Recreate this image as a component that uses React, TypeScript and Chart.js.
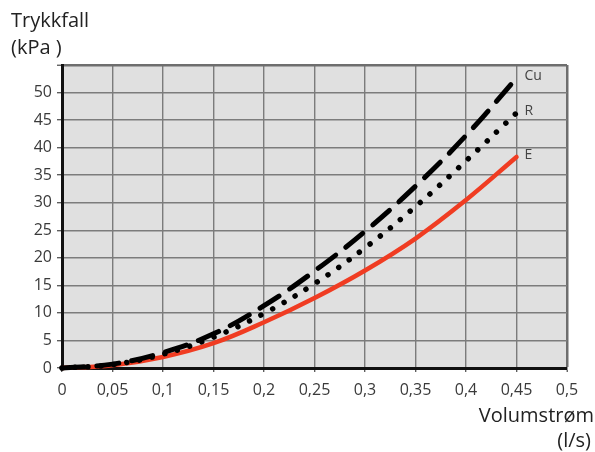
import React, { useEffect, useRef } from "react";
import { Chart, registerables } from "chart.js";

Chart.register(...registerables);

const flowValues = [0, 0.05, 0.1, 0.15, 0.2, 0.25, 0.3, 0.35, 0.4, 0.45];
const cuValues = [0, 0.7, 2.8, 6.2, 11.3, 17.6, 24.8, 33.0, 42.2, 52.6];
const rValues = [0, 0.6, 2.5, 5.6, 9.9, 15.3, 21.8, 29.3, 37.6, 46.3];
const eValues = [0, 0.5, 2.0, 4.5, 8.3, 12.7, 17.7, 23.5, 30.5, 38.3];
const seriesNames = ["Cu", "R", "E"];
const yAxisTitle = ["Trykkfall", "(kPa )"];
const xAxisTitle = ["Volumstrøm", "(l/s)"];

const FONT = "'Open Sans', 'Noto Sans', sans-serif";

const fmt = (v: number) => String(Math.round(v * 100) / 100).replace(".", ",");

export default function App() {
  const ref = useRef<HTMLCanvasElement | null>(null);
  useEffect(() => {
    if (!ref.current) return;
    const pts = (ys: number[]) => flowValues.map((x, i) => ({ x, y: ys[i] }));
    const bgPlugin = {
      id: "bg",
      beforeDraw(chart: any) {
        const { ctx, chartArea: a } = chart;
        ctx.save();
        ctx.fillStyle = "#e0e0e0";
        ctx.fillRect(a.left, a.top, a.right - a.left, a.bottom - a.top);
        ctx.restore();
      },
      afterDraw(chart: any) {
        const { ctx } = chart;
        ctx.save();
        ctx.fillStyle = "#222";
        ctx.font = `20px ${FONT}`;
        ctx.textAlign = "left";
        ctx.textBaseline = "alphabetic";
        ctx.fillText(yAxisTitle[0], 11, 27);
        ctx.fillText(yAxisTitle[1], 11, 54);
        ctx.textAlign = "right";
        ctx.fillText(xAxisTitle[0], 594, 422);
        ctx.fillText(xAxisTitle[1], 591, 447);
        ctx.fillStyle = "#444";
        ctx.font = `14px ${FONT}`;
        ctx.textAlign = "left";
        ctx.textBaseline = "middle";
        const xs = chart.scales.x;
        const ys = chart.scales.y;
        chart.data.datasets.forEach((ds: any, i: number) => {
          const last = ds.data[ds.data.length - 1];
          ctx.fillText(seriesNames[i], xs.getPixelForValue(last.x) + 8, ys.getPixelForValue(last.y) - 2);
        });
        ctx.restore();
      },
    };
    const chart = new Chart(ref.current, {
      type: "line",
      data: {
        datasets: [
          {
            label: seriesNames[0],
            data: pts(cuValues),
            borderColor: "#000",
            borderWidth: 5,
            borderDash: [22, 13],
            borderCapStyle: "round",
            pointRadius: 0,
            tension: 0.4,
            clip: false,
          },
          {
            label: seriesNames[1],
            data: pts(rValues),
            borderColor: "#000",
            borderWidth: 5.5,
            borderDash: [0.01, 13],
            borderCapStyle: "round",
            pointRadius: 0,
            tension: 0.4,
            clip: false,
          },
          {
            label: seriesNames[2],
            data: pts(eValues),
            borderColor: "#f03c22",
            borderWidth: 4.5,
            borderCapStyle: "round",
            pointRadius: 0,
            tension: 0.4,
            clip: false,
          },
        ],
      },
      options: {
        animation: false,
        responsive: false,
        devicePixelRatio: 1,
        layout: { padding: { top: 65, right: 28, left: 0, bottom: 0 } },
        plugins: { legend: { display: false }, tooltip: { enabled: false } },
        scales: {
          x: {
            type: "linear",
            min: 0,
            max: 0.5,
            afterFit: (s: any) => {
              s.height = 84;
            },
            ticks: {
              stepSize: 0.05,
              color: "#3a3a3a",
              font: { family: FONT, size: 16 },
              padding: 9,
              maxRotation: 0,
              autoSkip: false,
              callback: (v: any) => fmt(Number(v)),
            },
            grid: {
              color: (c: any) => (c.index === 10 ? "#6e6e6e" : "#7c7c7c"),
              lineWidth: (c: any) => (c.index === 10 ? 2.5 : 1.4),
              tickLength: 4,
              tickColor: "#555",
              tickWidth: 1.3,
            },
            border: { color: "#111", width: 3 },
          },
          y: {
            min: 0,
            max: 55,
            afterFit: (s: any) => {
              s.width = 62;
            },
            ticks: {
              stepSize: 5,
              color: "#3a3a3a",
              font: { family: FONT, size: 16 },
              padding: 5,
              callback: (v: any) => (Number(v) === 55 ? "" : String(v)),
            },
            grid: {
              color: (c: any) => (c.index === 11 ? "#6e6e6e" : "#7c7c7c"),
              lineWidth: (c: any) => (c.index === 11 ? 2.5 : 1.4),
              tickLength: 5,
              tickColor: "#555",
              tickWidth: 1.3,
            },
            border: { color: "#111", width: 3 },
          },
        },
      },
      plugins: [bgPlugin],
    } as any);
    return () => chart.destroy();
  }, []);
  return (
    <div style={{ position: "absolute", left: 0, top: 0, width: 595, height: 452 }}>
      <canvas ref={ref} width={595} height={452} style={{ width: 595, height: 452, display: "block" }} />
    </div>
  );
}
